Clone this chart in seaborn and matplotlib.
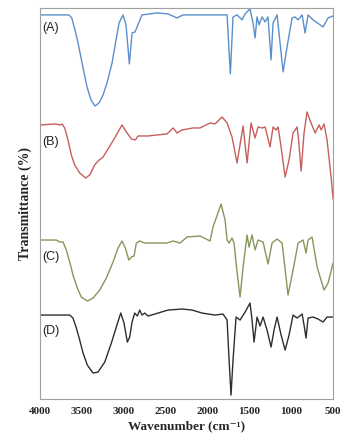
import pandas as pd
import matplotlib
import matplotlib.pyplot as plt
import seaborn as sns

matplotlib.use('Agg')

# spectra (wavenumber in cm-1, transmittance in stacked a.u.)
wn_a = [4000, 3677, 3654, 3621, 3582, 3546, 3486, 3439, 3391, 3343, 3295, 3247, 3200, 3140,
        3092, 3056, 3009, 2973, 2933, 2901, 2865, 2782, 2603, 2471, 2364, 2292, 1766, 1727,
        1695, 1647, 1587, 1551, 1492, 1456, 1432, 1408, 1384, 1348, 1312, 1277, 1241, 1217,
        1169, 1097, 1050, 990, 954, 918, 870, 835, 799, 739, 620, 560, 500]
t_a = [385, 385, 385, 382, 370, 357, 332, 313, 300, 294, 297, 305, 317, 337,
       360, 377, 385, 375, 336, 367, 368, 385, 387, 386, 382, 385, 385, 326,
       383, 385, 380, 386, 391, 377, 362, 383, 375, 383, 378, 383, 340, 377,
       385, 328, 353, 382, 383, 380, 385, 367, 385, 380, 373, 382, 384]

wn_b = [4000, 3824, 3753, 3737, 3705, 3666, 3626, 3586, 3526, 3454, 3406, 3347, 3307, 3247,
        3188, 3108, 3021, 2969, 2909, 2862, 2829, 2710, 2603, 2483, 2411, 2364, 2304, 2172,
        2089, 1969, 1910, 1826, 1766, 1707, 1647, 1575, 1527, 1480, 1432, 1396, 1348, 1312,
        1253, 1217, 1181, 1157, 1121, 1073, 1026, 978, 930, 912, 882, 847, 811, 763, 715,
        667, 643, 608, 572, 524, 500]
t_b = [275, 276, 275, 276, 272, 260, 245, 235, 227, 222, 225, 235, 239, 243,
       251, 262, 275, 268, 261, 260, 264, 264, 265, 266, 272, 267, 270, 272,
       272, 277, 276, 283, 277, 263, 237, 274, 237, 277, 262, 273, 272, 273,
       253, 273, 270, 273, 253, 223, 240, 267, 273, 260, 229, 267, 288, 277, 267,
       275, 270, 276, 260, 223, 201]

wn_c = [4000, 3805, 3765, 3725, 3686, 3645, 3606, 3554, 3507, 3435, 3367, 3287, 3208, 3128,
        3068, 3021, 2981, 2940, 2909, 2877, 2850, 2809, 2749, 2483, 2411, 2328, 2244, 2089,
        1969, 1934, 1838, 1790, 1766, 1742, 1707, 1683, 1647, 1611, 1575, 1527, 1504, 1468,
        1432, 1396, 1336, 1277, 1229, 1169, 1109, 1038, 978, 918, 858, 823, 799, 751, 691,
        608, 560, 500]
t_c = [160, 160, 158, 158, 150, 138, 125, 112, 103, 99, 102, 110, 122, 138,
       152, 159, 152, 140, 143, 144, 157, 159, 157, 157, 159, 157, 163, 164,
       159, 173, 196, 180, 160, 157, 162, 157, 128, 103, 133, 165, 153, 165,
       150, 160, 158, 136, 157, 161, 157, 105, 130, 157, 160, 147, 160, 163, 133,
       110, 117, 137]

wn_d = [4000, 3645, 3606, 3566, 3526, 3486, 3435, 3367, 3307, 3227, 3148, 3089, 3036, 2997,
        2957, 2929, 2901, 2869, 2838, 2809, 2782, 2749, 2710, 2471, 2304, 2184, 2065, 1910,
        1814, 1766, 1742, 1719, 1695, 1659, 1611, 1551, 1492, 1468, 1444, 1408, 1372, 1336,
        1289, 1241, 1205, 1169, 1121, 1073, 1026, 978, 930, 870, 847, 823, 799, 739, 679,
        620, 572, 500]
t_d = [85, 85, 82, 72, 60, 47, 35, 27, 28, 38, 57, 73, 87, 77,
       58, 63, 78, 87, 84, 90, 85, 87, 84, 90, 91, 90, 87, 85,
       86, 80, 40, 5, 40, 83, 80, 88, 97, 80, 58, 83, 74, 83,
       70, 53, 70, 83, 65, 50, 65, 85, 82, 86, 75, 62, 82, 83, 81,
       78, 83, 83]

samples = ['(A)', '(B)', '(C)', '(D)']
colours = ['#5b8fcb', '#c45f5b', '#86975a', '#2e2e2e']

df = pd.concat([
    pd.DataFrame({'wn': w, 't': t, 'sample': s})
    for w, t, s in zip([wn_a, wn_b, wn_c, wn_d], [t_a, t_b, t_c, t_d], samples)
])

sns.set_style('white')
plt.rcParams['font.family'] = ['Liberation Serif', 'DejaVu Serif']

fig = plt.figure(figsize=(3.51, 4.40), dpi=100)
ax = fig.add_axes([0.114, 0.093, 0.835, 0.889])

sns.lineplot(data=df, x='wn', y='t', hue='sample', palette=colours,
             linewidth=1.0, legend=False, ax=ax, estimator=None, sort=False)

ax.set_xlim(4000, 500)
ax.set_ylim(1, 392)
ax.set_xticks([4000, 3500, 3000, 2500, 2000, 1500, 1000, 500])
ax.set_yticks([])
ax.tick_params(axis='x', direction='out', length=2.5, width=0.6, color='#999999',
               labelsize=8, pad=3)
for lbl in ax.get_xticklabels():
    lbl.set_fontweight('bold')
for sp in ax.spines.values():
    sp.set_color('#a0a0a0')
    sp.set_linewidth(0.8)

ax.set_xlabel('Wavenumber (cm\u207b\u00b9)', fontsize=9.5, fontweight='bold', labelpad=3)
ax.set_ylabel('Transmittance (%)', fontsize=10, fontweight='bold', labelpad=6)

# sample labels
label_y = [372, 258, 143, 69]
for s, y in zip(samples, label_y):
    ax.text(3970, y, s, fontsize=9, family=['Liberation Sans', 'DejaVu Sans'],
            va='center', ha='left', color='#222222')

plt.savefig('out.png', dpi=100)
